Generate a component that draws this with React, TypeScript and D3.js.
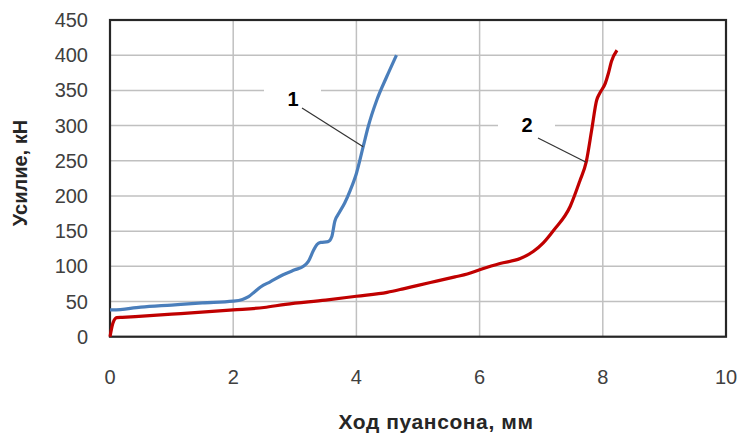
import React from "react";
import * as d3 from "d3";

// Punch stroke (mm) vs. force (kN), two test runs
const curve1X = [0, 0.05, 0.5, 1, 1.5, 2, 2.15, 2.25, 2.35, 2.45, 2.6, 2.81, 3.0, 3.14, 3.22, 3.3, 3.36, 3.42, 3.54, 3.6, 3.65, 3.72, 3.81, 3.9, 4.0, 4.11, 4.19, 4.33, 4.49, 4.65];
const curve1Y = [38, 38, 42, 45, 48, 50.5, 53, 57, 64, 71, 78, 88, 95, 100, 107, 122, 131, 134, 135, 142, 164, 176, 190, 208, 232, 270, 298, 336, 369, 400];

const curve2X = [0, 0.05, 0.11, 0.2, 1, 2, 2.5, 2.85, 3.5, 4, 4.5, 4.76, 5.0, 5.3, 5.6, 5.8, 6.0, 6.33, 6.66, 6.87, 7.03, 7.2, 7.47, 7.63, 7.73, 7.82, 7.9, 7.95, 8.04, 8.09, 8.14, 8.23];
const curve2Y = [0, 20, 27, 27.5, 32, 38, 41.5, 46, 52, 57.5, 63, 68, 73, 79, 85, 89, 95, 104, 111, 121, 133, 151, 185, 222, 248, 294, 336, 346, 360, 374, 391, 407];

const xTicks = [0, 2, 4, 6, 8, 10];
const yTicks = [0, 50, 100, 150, 200, 250, 300, 350, 400, 450];

const xTitle = "Ход пуансона, мм";
const yTitle = "Усилие, кН";

// Callout labels: text, anchor point on the curve (data units)
const calloutLabels = ["1", "2"];
const calloutAnchorX = [4.11, 7.73];
const calloutAnchorY = [270, 248];

const W = 739;
const H = 437;
const plot = { left: 110, right: 726, top: 20, bottom: 336.7 };

export default function App() {
  const x = d3.scaleLinear().domain([0, 10]).range([plot.left, plot.right]);
  const y = d3.scaleLinear().domain([0, 450]).range([plot.bottom, plot.top]);

  const line = d3
    .line<[number, number]>()
    .x((d) => x(d[0]))
    .y((d) => y(d[1]))
    .curve(d3.curveMonotoneX);

  const s1 = curve1X.map((v, i) => [v, curve1Y[i]] as [number, number]);
  const s2 = curve2X.map((v, i) => [v, curve2Y[i]] as [number, number]);

  const font = "Liberation Sans, Arial, sans-serif";
  const labelPos = [
    { lx: 293, ly: 99, sx: 302, sy: 108 },
    { lx: 527, ly: 125, sx: 538, sy: 138 },
  ];

  return (
    <svg
      width={W}
      height={H}
      style={{ position: "fixed", left: 0, top: 0, background: "#fff" }}
      fontFamily={font}
    >
      <rect x={0} y={0} width={W} height={H} fill="#fff" />
      {/* grid */}
      {yTicks.map((t) => (
        <line key={"gy" + t} x1={plot.left} x2={plot.right} y1={y(t)} y2={y(t)} stroke="#c0c0c0" strokeWidth={1.5} />
      ))}
      {xTicks.map((t) => (
        <line key={"gx" + t} x1={x(t)} x2={x(t)} y1={plot.top} y2={plot.bottom} stroke="#c0c0c0" strokeWidth={1.5} />
      ))}
      {/* callout backgrounds */}
      {labelPos.map((p, i) => (
        <rect key={"bg" + i} x={p.lx - 29} y={p.ly - 11} width={57} height={20} fill="#fff" />
      ))}
      {/* frame */}
      <rect
        x={plot.left}
        y={plot.top}
        width={plot.right - plot.left}
        height={plot.bottom - plot.top}
        fill="none"
        stroke="#262626"
        strokeWidth={2.2}
      />
      {/* series */}
      <path d={line(s1) || ""} fill="none" stroke="#4a7ebb" strokeWidth={3.2} strokeLinejoin="round" />
      <path d={line(s2) || ""} fill="none" stroke="#c00000" strokeWidth={3.2} strokeLinejoin="round" />
      {/* callouts */}
      {labelPos.map((p, i) => (
        <g key={"co" + i}>
          <line
            x1={p.sx}
            y1={p.sy}
            x2={x(calloutAnchorX[i])}
            y2={y(calloutAnchorY[i])}
            stroke="#333"
            strokeWidth={1.2}
          />
          <text x={p.lx} y={p.ly} textAnchor="middle" dominantBaseline="central" fontWeight="bold" fontSize={20} fill="#000">
            {calloutLabels[i]}
          </text>
        </g>
      ))}
      {/* y tick labels */}
      {yTicks.map((t) => (
        <text key={"ty" + t} x={88} y={y(t)} textAnchor="end" dominantBaseline="central" fontSize={20} fill="#404040">
          {t}
        </text>
      ))}
      {/* x tick labels */}
      {xTicks.map((t) => (
        <text key={"tx" + t} x={x(t)} y={377} textAnchor="middle" dominantBaseline="central" fontSize={20} fill="#404040">
          {t}
        </text>
      ))}
      {/* axis titles */}
      <text
        x={436}
        y={421}
        textAnchor="middle"
        dominantBaseline="central"
        fontSize={21}
        letterSpacing={0.6}
        fontWeight="bold"
        fill="#262626"
      >
        {xTitle}
      </text>
      <text
        transform={`translate(20,173) rotate(-90)`}
        textAnchor="middle"
        dominantBaseline="central"
        fontSize={20}
        fontWeight="bold"
        fill="#262626"
      >
        {yTitle}
      </text>
    </svg>
  );
}
